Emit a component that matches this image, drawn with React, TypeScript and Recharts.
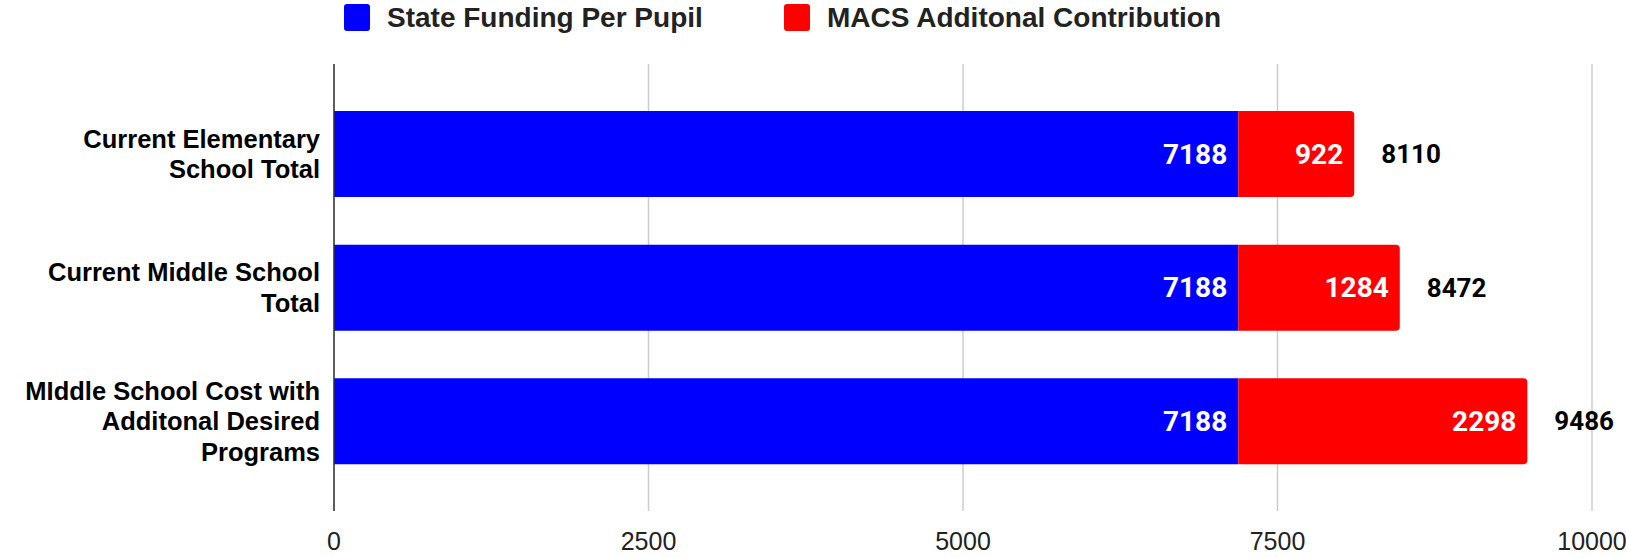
import React from "react";
import { Bar, BarChart, CartesianGrid, LabelList, Legend, XAxis, YAxis } from "recharts";

const categories = [
  "Current Elementary School Total",
  "Current Middle School Total",
  "MIddle School Cost with Additonal Desired Programs",
];
const stateFunding = [7188, 7188, 7188];
const macsContribution = [922, 1284, 2298];
const xTicks = [0, 2500, 5000, 7500, 10000];

const BLUE = "#0000ff";
const RED = "#ff0000";
const TEXT = "#222222";
const ARIAL = "'Liberation Sans', Arial, sans-serif";
const ROBOTO = "Roboto, 'Liberation Sans', sans-serif";

const data = categories.map((name, i) => ({
  name,
  state: stateFunding[i],
  macs: macsContribution[i],
  total: stateFunding[i] + macsContribution[i],
}));

let ctx: CanvasRenderingContext2D | null = null;
function wrap(text: string, maxWidth: number): string[] {
  if (!ctx) ctx = document.createElement("canvas").getContext("2d");
  if (!ctx) return [text];
  ctx.font = `bold 25.5px ${ARIAL}`;
  const words = text.split(" ");
  const lines: string[] = [];
  let cur = "";
  for (const w of words) {
    const next = cur ? cur + " " + w : w;
    if (cur && ctx.measureText(next).width > maxWidth) {
      lines.push(cur);
      cur = w;
    } else cur = next;
  }
  if (cur) lines.push(cur);
  return lines;
}

function CategoryTick({ x, y, payload }: any) {
  const lines = wrap(payload.value, 305);
  const n = lines.length;
  return (
    <text textAnchor="end" fill="#000" fontFamily={ARIAL} fontWeight="bold" fontSize={25.5}>
      {lines.map((l, i) => (
        <tspan key={i} x={x - 14} y={y + (i - (n - 1) / 2) * 30.5 + 9}>
          {l}
        </tspan>
      ))}
    </text>
  );
}

function ValueTick({ x, y, payload }: any) {
  return (
    <text x={x} y={y + 39} textAnchor="middle" fill={TEXT} fontFamily={ARIAL} fontSize={25}>
      {payload.value}
    </text>
  );
}

function InsideLabel({ x, y, width, height, value }: any) {
  return (
    <text
      x={x + width - 11}
      y={y + height / 2}
      textAnchor="end"
      dominantBaseline="central"
      fill="#fff"
      fontFamily={ROBOTO}
      fontWeight="bold"
      fontSize={28}
    >
      {value}
    </text>
  );
}

function TotalLabel({ x, y, width, height, index }: any) {
  return (
    <text
      x={x + width + 27}
      y={y + height / 2}
      dominantBaseline="central"
      fill="#000"
      fontFamily={ROBOTO}
      fontWeight="bold"
      fontSize={26}
    >
      {data[index].total}
    </text>
  );
}

function LegendBox() {
  const items = [
    { label: "State Funding Per Pupil", color: BLUE, left: 344 },
    { label: "MACS Additonal Contribution", color: RED, left: 784 },
  ];
  return (
    <div style={{ position: "relative", height: 36, fontFamily: ARIAL, fontWeight: "bold", fontSize: 28, lineHeight: "36px", color: TEXT }}>
      {items.map((it) => (
        <div key={it.label} style={{ position: "absolute", left: it.left, top: 0, display: "flex", alignItems: "flex-start" }}>
          <div style={{ width: 26, height: 27, marginTop: 4, marginRight: 17, background: it.color, borderRadius: 3 }} />
          <span style={{ whiteSpace: "nowrap" }}>{it.label}</span>
        </div>
      ))}
    </div>
  );
}

export default function App() {
  return (
    <div style={{ position: "absolute", left: 0, top: 0, background: "#fff" }}>
      <BarChart
        width={1626}
        height={558}
        data={data}
        layout="vertical"
        margin={{ top: 64, right: 34, bottom: 0, left: 0 }}
      >
        <CartesianGrid horizontal={false} stroke="#cccccc" strokeWidth={1.5} />
        <XAxis
          type="number"
          domain={[0, 10000]}
          ticks={xTicks}
          height={47}
          axisLine={false}
          tickLine={false}
          tickSize={0}
          tickMargin={0}
          tick={<ValueTick />}
          interval={0}
        />
        <YAxis
          type="category"
          dataKey="name"
          width={334}
          axisLine={{ stroke: "#333", strokeWidth: 1.5 }}
          tickLine={false}
          tickSize={0}
          tickMargin={0}
          tick={<CategoryTick />}
          padding={{ top: 23, bottom: 23 }}
          interval={0}
        />
        <Legend
          verticalAlign="middle"
          align="center"
          wrapperStyle={{ top: 0, left: 0, width: 1626 }}
          content={<LegendBox />}
        />
        <Bar dataKey="state" stackId="a" fill={BLUE} barSize={86} isAnimationActive={false}>
          <LabelList dataKey="state" content={<InsideLabel />} />
        </Bar>
        <Bar dataKey="macs" stackId="a" fill={RED} barSize={86} radius={[0, 4, 4, 0]} isAnimationActive={false}>
          <LabelList dataKey="macs" content={<InsideLabel />} />
          <LabelList dataKey="total" content={<TotalLabel />} />
        </Bar>
      </BarChart>
    </div>
  );
}
